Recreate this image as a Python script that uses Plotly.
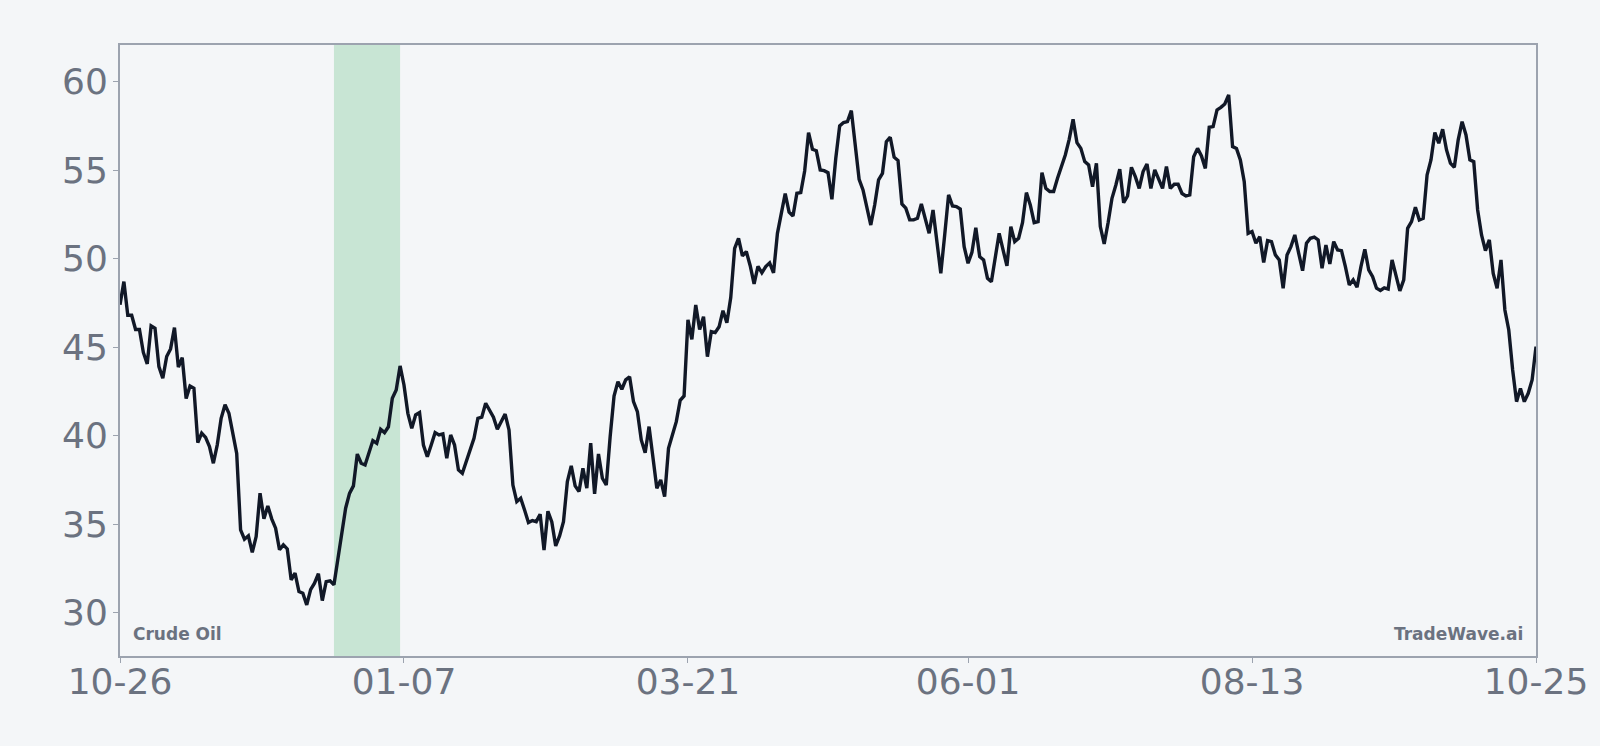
import pandas as pd
import plotly.graph_objects as go

# ---- data ----
start_date = "2024-10-26"
end_date = "2025-10-25"
prices_nov_jan = [
    47.4, 48.7, 46.8, 46.8, 46.0, 46.0, 44.7, 44.05, 46.2, 46.07,
    43.9, 43.24, 44.47, 44.9, 46.1, 43.87, 44.4, 42.1, 42.8, 42.68,
    39.6, 40.14, 39.9, 39.38, 38.44, 39.48, 40.98, 41.74, 41.27, 40.14,
    39.0, 34.68, 34.15, 34.34, 33.4, 34.3, 36.75, 35.3, 36.03, 35.3,
    34.77, 33.55, 33.83, 33.6, 31.85, 32.23, 31.19, 31.1, 30.44, 31.3,
    31.66, 32.2, 30.68, 31.75, 31.8, 31.57, 33.0, 34.6, 35.9, 36.74,
    37.16, 38.96, 38.44, 38.34, 39.1, 39.72, 39.57, 40.36, 40.17, 40.5,
    42.11, 42.58, 43.94, 42.86, 41.26, 40.41, 41.17, 41.3, 39.47, 38.81,
    39.47, 40.17, 40.04, 40.1, 38.72, 40.04, 39.47, 38.06, 37.87, 38.53,
    39.28, 39.85,
]
prices_jan_apr = [
    40.98, 41.04, 41.83, 41.45, 41.04, 40.36, 40.79, 41.22, 40.32, 37.21,
    36.27, 36.46, 35.8, 35.09, 35.2, 35.14, 35.56, 33.54, 35.73, 35.12,
    33.77, 34.33, 35.14, 37.4, 38.29, 37.16, 36.84, 38.15, 37.03, 39.57,
    36.71, 38.96, 37.59, 37.21, 39.94, 42.24, 43.05, 42.62, 43.15, 43.33,
    41.92, 41.36, 39.76, 39.04, 40.51, 38.59, 37.03, 37.5, 36.55, 39.28,
    40.13, 40.79, 42.0, 42.24, 46.54, 45.44, 47.38, 46.0, 46.72, 44.46,
    45.88, 45.82, 46.15, 47.06, 46.38, 47.8, 50.58, 51.15, 50.15, 50.4,
    49.6, 48.57, 49.57, 49.2, 49.55, 49.76, 49.2, 51.43, 52.56, 53.67,
    52.63, 52.41, 53.69, 53.73, 54.95, 57.12, 56.18, 56.1, 55.01, 54.97,
    54.86,
]
prices_apr_jul = [
    53.35, 55.67, 57.5, 57.69, 57.74, 58.36, 56.33, 54.48, 53.88, 52.94,
    51.9, 53.03, 54.45, 54.82, 56.61, 56.86, 55.73, 55.54, 53.09, 52.85,
    52.19, 52.19, 52.28, 53.09, 52.19, 51.43, 52.75, 50.87, 49.17, 51.34,
    53.6, 52.98, 52.94, 52.8, 50.68, 49.74, 50.35, 51.75, 50.11, 49.93,
    48.89, 48.7, 50.02, 51.43, 50.49, 49.59, 51.81, 50.96, 51.15, 52.03,
    53.73, 53.03, 52.03, 52.09, 54.86, 53.97, 53.79, 53.79, 54.54, 55.24,
    55.86, 56.74, 57.87, 56.55, 56.23, 55.48, 55.29, 54.07, 55.39, 51.81,
    50.83, 52.03, 53.41, 54.16, 55.05, 53.16, 53.54, 55.16, 54.63, 53.97,
    54.92, 55.35, 53.97, 55.01, 54.48, 53.97, 55.2, 53.97, 54.2, 54.2,
    53.68,
]
prices_jul_oct = [
    53.54, 53.6, 55.76, 56.23, 55.8, 55.1, 57.42, 57.46, 58.4, 58.55,
    58.74, 59.25, 56.33, 56.23, 55.58, 54.35, 51.43, 51.53, 50.87, 51.24,
    49.78, 51.02, 50.96, 50.21, 49.93, 48.33, 50.21, 50.68, 51.34, 50.3,
    49.32, 50.87, 51.15, 51.21, 51.06, 49.46, 50.77, 49.7, 50.96, 50.49,
    50.45, 49.55, 48.51, 48.8, 48.38, 49.55, 50.53, 49.36, 48.98, 48.33,
    48.2, 48.35, 48.28, 49.93, 48.98, 48.18, 48.8, 51.71, 52.09, 52.9,
    52.19, 52.28, 54.73, 55.58, 57.12, 56.52, 57.31, 56.14, 55.39, 55.16,
    56.71, 57.74, 56.99, 55.58, 55.48, 52.75, 51.34, 50.45, 51.06, 49.17,
    48.32, 49.93, 47.1, 45.97, 43.71, 41.92, 42.67, 41.92, 42.39, 43.15,
    45.03,
]
highlight_start = "2024-12-20"
highlight_end = "2025-01-06"
tick_dates = ["2024-10-26", "2025-01-07", "2025-03-21", "2025-06-01", "2025-08-13", "2025-10-25"]
y_ticks = [30, 35, 40, 45, 50, 55, 60]
series_label = "Crude Oil"
brand_label = "TradeWave.ai"

prices = prices_nov_jan + prices_jan_apr + prices_apr_jul + prices_jul_oct
dates = pd.date_range(start_date, periods=len(prices), freq="D")

BG = "#f4f6f8"
GRAY_TXT = "#6b7280"
AXIS = "#9ca3af"
FONT = "DejaVu Sans"

fig = go.Figure()
fig.add_trace(go.Scatter(
    x=dates, y=prices, mode="lines",
    line=dict(color="#111827", width=3.4),
    hoverinfo="skip", showlegend=False,
))

fig.add_shape(
    type="rect", xref="x", yref="paper",
    x0=highlight_start, x1=highlight_end, y0=0, y1=1,
    fillcolor="#c8e5d4", line=dict(width=0), layer="below",
)

fig.add_annotation(
    text=series_label, xref="paper", yref="paper", x=0.008, y=0.016,
    xanchor="left", yanchor="bottom", showarrow=False,
    font=dict(family=FONT, size=17, color=GRAY_TXT, weight="bold"),
)
fig.add_annotation(
    text=brand_label, xref="paper", yref="paper", x=0.992, y=0.016,
    xanchor="right", yanchor="bottom", showarrow=False,
    font=dict(family=FONT, size=17, color=GRAY_TXT, weight="bold"),
)

fig.update_layout(
    width=1600, height=746,
    paper_bgcolor=BG, plot_bgcolor=BG,
    margin=dict(l=120, r=64, t=45, b=90),
    font=dict(family=FONT, color=GRAY_TXT),
    showlegend=False,
)
fig.update_xaxes(
    type="date", range=[start_date, end_date],
    tickvals=tick_dates, tickformat="%m-%d",
    tickfont=dict(family=FONT, size=36, color=GRAY_TXT),
    showgrid=False, zeroline=False,
    showline=True, linecolor=AXIS, linewidth=2, mirror=True,
    ticks="outside", ticklen=5, tickcolor=AXIS, tickwidth=1,
    ticklabelstandoff=-12,
)
fig.update_yaxes(
    range=[27.55, 62.07], tickvals=y_ticks,
    tickfont=dict(family=FONT, size=36, color=GRAY_TXT),
    showgrid=False, zeroline=False,
    showline=True, linecolor=AXIS, linewidth=2, mirror=True,
    ticks="outside", ticklen=5, tickcolor=AXIS, tickwidth=1,
    ticklabelstandoff=-2,
)

fig.write_html(
    "out.html",
    config={"displayModeBar": False},
    post_script="document.body.style.margin='0';document.body.style.background='#f4f6f8';",
)
